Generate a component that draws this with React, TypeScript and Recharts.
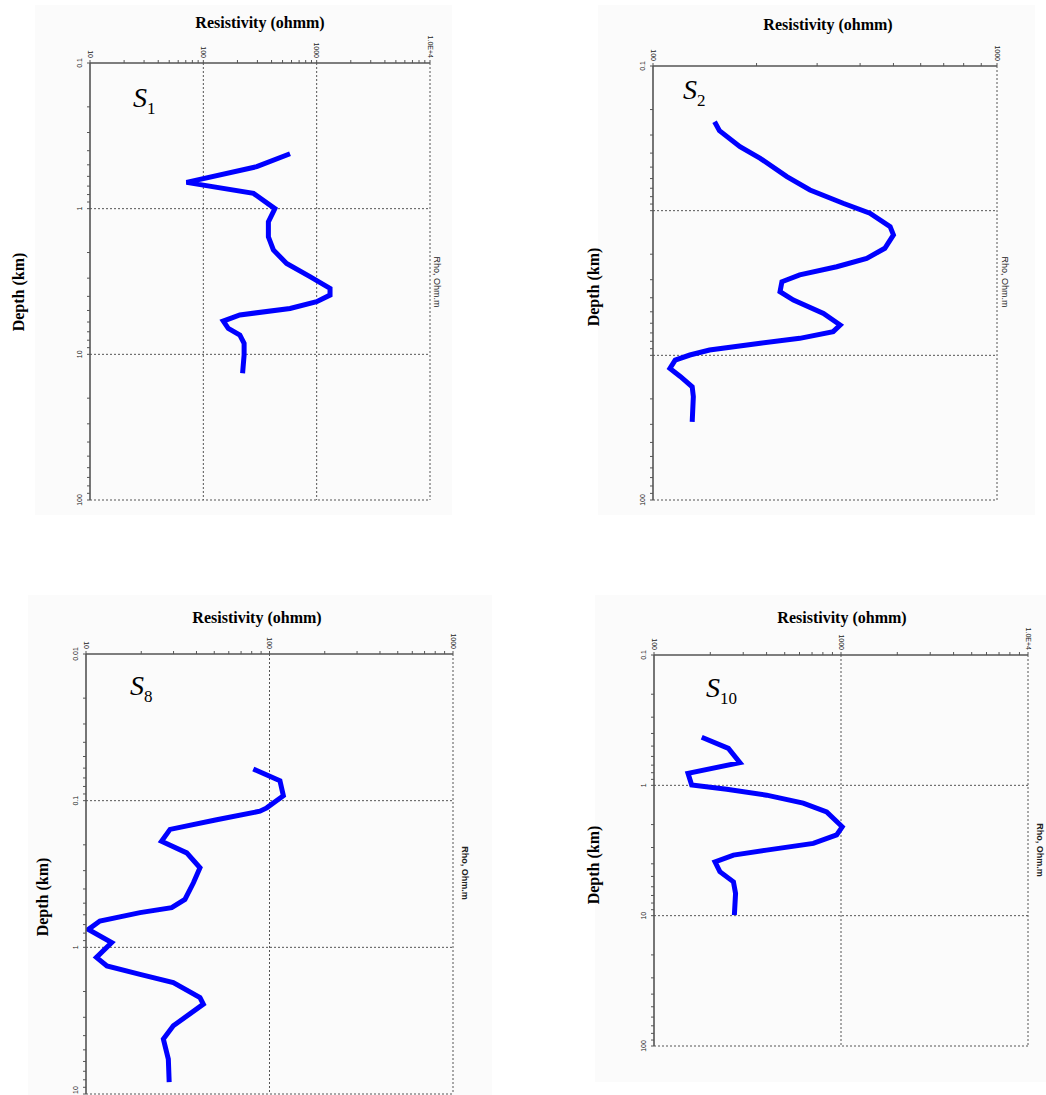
import React from 'react';
import { LineChart, Line, XAxis, YAxis, ReferenceLine } from 'recharts';

// ---------- data ----------
const s1Rho = [582, 296, 71, 277, 428, 375, 375, 415, 543, 873, 1312, 1312, 1000, 582, 210, 150, 166, 210, 229, 229, 222];
const s1Depth = [0.42, 0.515, 0.66, 0.785, 1.0, 1.23, 1.56, 1.92, 2.38, 2.93, 3.53, 3.92, 4.35, 4.84, 5.37, 5.91, 6.64, 7.38, 8.42, 10.1, 13.5];

const s2Rho = [151, 156, 179, 205, 245, 286, 357, 427, 489, 500, 472, 418, 342, 267, 237, 234, 256, 313, 350, 334, 267, 205, 146, 128, 116, 112, 120, 130, 131, 130];
const s2Depth = [0.243, 0.28, 0.361, 0.435, 0.582, 0.72, 0.889, 1.04, 1.29, 1.47, 1.82, 2.14, 2.44, 2.78, 3.1, 3.63, 4.15, 5.13, 6.17, 6.86, 7.63, 8.26, 9.19, 9.95, 10.8, 12.3, 14.0, 16.5, 19.3, 28.8];

const s8Rho = [81.6, 114, 119, 96.6, 88.7, 51.5, 28.7, 25.8, 35.4, 41.8, 38.5, 34.6, 29.3, 19.7, 11.9, 10.3, 13.8, 11.4, 13.0, 19.7, 29.9, 41.8, 43.6, 29.9, 26.4, 28.1, 28.4];
const s8Depth = [0.0608, 0.0731, 0.0925, 0.112, 0.118, 0.135, 0.157, 0.189, 0.227, 0.287, 0.363, 0.471, 0.537, 0.58, 0.662, 0.755, 0.929, 1.17, 1.34, 1.53, 1.74, 2.2, 2.44, 3.43, 4.22, 5.78, 8.3];

const s10Rho = [180, 250, 288, 152, 159, 245, 400, 628, 838, 1015, 948, 711, 400, 266, 212, 225, 266, 273, 269];
const s10Depth = [0.428, 0.52, 0.67, 0.809, 0.995, 1.07, 1.19, 1.37, 1.6, 2.08, 2.4, 2.79, 3.14, 3.43, 3.86, 4.6, 5.5, 6.76, 9.9];

// axis decades and their labels
const s1XMajors = [10, 100, 1000, 10000];
const s1XLabels = ['10', '100', '1000', '1.0E+4'];
const s1YMajors = [0.1, 1, 10, 100];
const s1YLabels = ['0.1', '1', '10', '100'];

const s2XMajors = [100, 1000];
const s2XLabels = ['100', '1000'];
const s2YMajors = [0.1, 1, 10, 100];
const s2YLabels = ['0.1', '', '', '100'];

const s8XMajors = [10, 100, 1000];
const s8XLabels = ['10', '100', '1000'];
const s8YMajors = [0.01, 0.1, 1, 10];
const s8YLabels = ['0.01', '0.1', '1', '10'];

const s10XMajors = [100, 1000, 10000];
const s10XLabels = ['100', '1000', '1.0E+4'];
const s10YMajors = [0.1, 1, 10, 100];
const s10YLabels = ['0.1', '1', '10', '100'];

// ---------- helpers ----------
const withMinors = (majors: number[]) => {
  const out: number[] = [];
  majors.forEach((m, i) => {
    out.push(m);
    if (i < majors.length - 1) {
      for (let k = 2; k <= 9; k++) out.push(+(m * k).toPrecision(6));
    }
  });
  return out;
};

const AXIS = '#555';
const BLUE = '#0000ff';
const SANS = 'Arial, "Liberation Sans", sans-serif';
const SERIF = '"Times New Roman", "Liberation Serif", serif';

const ML = 50; // y-axis width
const MT = 30; // x-axis height

type PanelProps = {
  left: number; top: number; right: number; bottom: number;
  xMajors: number[]; xLabels: string[];
  yMajors: number[]; yLabels: string[];
  rho: number[]; depth: number[];
  pageBottom?: number;
};

const Panel = (p: PanelProps) => {
  const pw = p.right - p.left;
  const ph = p.bottom - p.top;
  const data = p.rho.map((r, i) => ({ rho: r, depth: p.depth[i] }));
  const xDomain = [p.xMajors[0], p.xMajors[p.xMajors.length - 1]];
  const yDomain = [p.yMajors[0], p.yMajors[p.yMajors.length - 1]];
  const limit = (p.pageBottom ?? 99999) - (p.top - MT);

  const TopTick = (t: any) => {
    const idx = p.xMajors.indexOf(t.payload.value);
    if (idx < 0 || !p.xLabels[idx]) return <g />;
    return (
      <text transform={`translate(${t.x},${MT - 5}) rotate(90)`} textAnchor="end" dominantBaseline="central"
        fontSize={7} fontFamily={SANS} fill="#222">{p.xLabels[idx]}</text>
    );
  };
  const LeftTick = (t: any) => {
    const idx = p.yMajors.indexOf(t.payload.value);
    if (idx < 0 || !p.yLabels[idx]) return <g />;
    const nearEdge = t.y + 6 > limit;
    return (
      <text transform={`translate(${ML - 8},${nearEdge ? limit - 1 : t.y}) rotate(-90)`}
        textAnchor={nearEdge ? 'start' : 'middle'}
        fontSize={7} fontFamily={SANS} fill="#222">{p.yLabels[idx]}</text>
    );
  };

  return (
    <div style={{ position: 'absolute', left: p.left - ML, top: p.top - MT }}>
      <LineChart width={pw + ML + 10} height={ph + MT + 10} data={data}
        margin={{ top: 0, right: 10, bottom: 10, left: 0 }}>
        <XAxis dataKey="rho" type="number" scale="log" orientation="top" domain={xDomain}
          allowDataOverflow ticks={withMinors(p.xMajors)} interval={0} height={MT}
          tickSize={3} tick={TopTick} tickLine={{ stroke: AXIS, strokeWidth: 1 }}
          axisLine={{ stroke: AXIS, strokeWidth: 1.6 }} />
        <YAxis dataKey="depth" type="number" scale="log" reversed domain={yDomain}
          allowDataOverflow ticks={withMinors(p.yMajors)} interval={0} width={ML}
          tickSize={3} tick={LeftTick} tickLine={{ stroke: AXIS, strokeWidth: 1 }}
          axisLine={{ stroke: AXIS, strokeWidth: 1.6 }} />
        {p.xMajors.slice(1).map((v) => (
          <ReferenceLine key={'x' + v} x={v} stroke={AXIS} strokeWidth={1} strokeDasharray="2 2" />
        ))}
        {p.yMajors.slice(1).map((v) => (
          <ReferenceLine key={'y' + v} y={v} stroke={AXIS} strokeWidth={1} strokeDasharray="2 2" />
        ))}
        <Line dataKey="depth" type="linear" stroke={BLUE} strokeWidth={5} dot={false}
          strokeLinejoin="miter" isAnimationActive={false} />
      </LineChart>
    </div>
  );
};

const Title = ({ x, y }: { x: number; y: number }) => (
  <text x={x} y={y} textAnchor="middle" dominantBaseline="central" fontFamily={SERIF}
    fontWeight="bold" fontSize={16} fill="#000">Resistivity (ohmm)</text>
);
const Depth = ({ x, y }: { x: number; y: number }) => (
  <text transform={`translate(${x},${y}) rotate(-90)`} textAnchor="middle" dominantBaseline="central"
    fontFamily={SERIF} fontWeight="bold" fontSize={16} fill="#000">Depth (km)</text>
);
const Rho = ({ x, y, bold }: { x: number; y: number; bold?: boolean }) => (
  <text transform={`translate(${x},${y}) rotate(90)`} textAnchor="middle" dominantBaseline="central"
    fontFamily={SANS} fontWeight={bold ? 'bold' : 'normal'} fontSize={9} fill="#222">Rho, Ohm.m</text>
);
const SLabel = ({ x, y, sub }: { x: number; y: number; sub: string }) => (
  <text x={x} y={y} fontFamily={SERIF} fill="#000">
    <tspan fontStyle="italic" fontSize={28}>S</tspan>
    <tspan fontSize={17} dy={7}>{sub}</tspan>
  </text>
);

export default function App() {
  return (
    <div style={{ position: 'absolute', left: 0, top: 0, width: 1046, height: 1095, background: '#fff', overflow: 'hidden' }}>
      {/* faint panel backgrounds */}
      <div style={{ position: 'absolute', left: 35, top: 5, width: 417, height: 510, background: '#fbfbfb' }} />
      <div style={{ position: 'absolute', left: 598, top: 5, width: 437, height: 510, background: '#fbfbfb' }} />
      <div style={{ position: 'absolute', left: 28, top: 595, width: 464, height: 500, background: '#fbfbfb' }} />
      <div style={{ position: 'absolute', left: 595, top: 595, width: 451, height: 487, background: '#fbfbfb' }} />

      <Panel left={90} top={63} right={430} bottom={500}
        xMajors={s1XMajors} xLabels={s1XLabels} yMajors={s1YMajors} yLabels={s1YLabels}
        rho={s1Rho} depth={s1Depth} />
      <Panel left={653} top={66} right={997} bottom={500}
        xMajors={s2XMajors} xLabels={s2XLabels} yMajors={s2YMajors} yLabels={s2YLabels}
        rho={s2Rho} depth={s2Depth} />
      <Panel left={86} top={654} right={453} bottom={1094} pageBottom={1095}
        xMajors={s8XMajors} xLabels={s8XLabels} yMajors={s8YMajors} yLabels={s8YLabels}
        rho={s8Rho} depth={s8Depth} />
      <Panel left={654} top={655} right={1028} bottom={1046}
        xMajors={s10XMajors} xLabels={s10XLabels} yMajors={s10YMajors} yLabels={s10YLabels}
        rho={s10Rho} depth={s10Depth} />

      <svg width={1046} height={1095} style={{ position: 'absolute', left: 0, top: 0, pointerEvents: 'none' }}>
        <Title x={260} y={22} />
        <Depth x={18} y={292} />
        <Rho x={437} y={282} />
        <SLabel x={133} y={107} sub="1" />

        <Title x={828} y={24} />
        <Depth x={593} y={287} />
        <Rho x={1005} y={282} />
        <SLabel x={683} y={99} sub="2" />

        <Title x={257} y={617} />
        <Depth x={42} y={897} />
        <Rho x={465} y={873} bold />
        <SLabel x={130} y={695} sub="8" />

        <Title x={842} y={617} />
        <Depth x={593} y={865} />
        <Rho x={1040} y={850} bold />
        <SLabel x={706} y={697} sub="10" />
      </svg>
    </div>
  );
}
